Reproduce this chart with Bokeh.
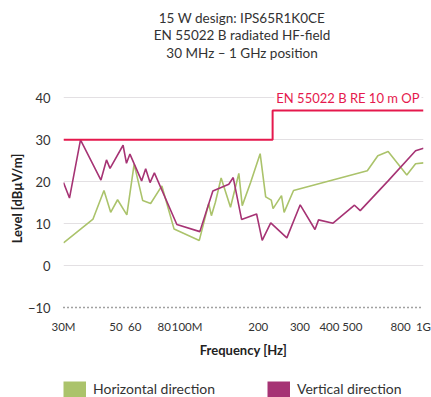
from bokeh.plotting import figure
from bokeh.layouts import column
from bokeh.models import (FixedTicker, Legend, LegendItem, Label, Range1d)
from bokeh.embed import file_html
from bokeh.resources import INLINE

# ---- data (frequency in MHz, level in dBuV/m) ----
horiz_freq = [30, 40.0, 44.5, 47.5, 50.8, 55.6, 59.7, 64.9, 70.1, 78.2, 88.1, 112.6, 123.4, 126.7,
              131.7, 139.3, 152.6, 165.5, 171.1, 185.6, 203.7, 215, 227, 231, 250.8, 257.3, 282,
              578.5, 641, 708.6, 850, 925.8, 1000]
horiz_level = [5.4, 11.1, 17.9, 12.7, 15.7, 12.1, 24.2, 15.5, 14.8, 19.0, 8.7, 6.0, 14.8, 11.9,
               15.1, 20.9, 13.9, 22.0, 14.3, 19.8, 26.7, 16.4, 15.6, 13.6, 16.7, 12.7, 17.9,
               22.6, 26.2, 27.2, 21.6, 24.3, 24.5]

vert_freq = [30, 31.8, 35.4, 43.2, 45.6, 47.2, 53.6, 55.4, 57.3, 64.2, 66.8, 69.7, 72.7, 90.5,
             113.2, 128.5, 150.1, 156.7, 170, 196.8, 207.8, 225.8, 264.2, 300.9, 347.5, 359.8,
             414.3, 510.6, 540, 708.6, 925.8, 1000]
vert_level = [19.8, 16.1, 30.0, 20.4, 25.2, 23.2, 28.7, 24.4, 26.6, 20.2, 23.1, 19.8, 22.1, 9.8,
              8.1, 17.8, 19.4, 21.0, 11.0, 12.3, 6.0, 10.2, 6.6, 14.5, 8.6, 10.9,
              10.1, 14.4, 13.1, 20.2, 27.4, 28.0]

limit_freq = [30, 230, 230, 1000]
limit_level = [30, 30, 37, 37]
limit_name = "EN 55022 B RE 10 m OP"

x_ticks = [30, 50, 60, 80, 100, 200, 300, 400, 500, 800, 1000]
x_tick_labels = ["30M", "50", "60", "80", "100M", "200", "300", "400", "500", "800", "1G"]
y_ticks = [-10, 0, 10, 20, 30, 40]

title_lines = ["15 W design: IPS65R1K0CE", "EN 55022 B radiated HF-field", "30 MHz \u2013 1 GHz position"]
series_names = ["Horizontal direction", "Vertical direction"]

GREEN = "#abc36b"
PURPLE = "#a63374"
RED = "#e5194d"
FONT = "Lato"
TXT = "#333333"

W = 431
BL, BR = 63, 8
TITLE_H = 89
FRAME_H = 218
AXIS_B = 58
LEG_H = 397 - TITLE_H - FRAME_H - AXIS_B


def blank_fig(h):
    f = figure(width=W, height=h, output_backend="svg", toolbar_location=None,
               x_axis_location=None, y_axis_location=None,
               min_border_left=BL, min_border_right=BR, min_border_top=0, min_border_bottom=0)
    f.outline_line_color = None
    f.grid.visible = False
    return f


# ---- title block ----
pt = blank_fig(TITLE_H)
for i, t in enumerate(title_lines):
    pt.add_layout(Label(x=178.5, y=TITLE_H - 17 - 17.5 * i, x_units="screen", y_units="screen",
                        text=t, text_align="center", text_baseline="middle",
                        text_font=FONT, text_font_size="13.5px", text_color=TXT))

# ---- main chart ----
p = figure(x_axis_type="log", x_range=Range1d(30, 1000), y_range=Range1d(-10, 42),
           width=W, height=FRAME_H + AXIS_B, output_backend="svg", toolbar_location=None,
           min_border_left=BL, min_border_right=BR, min_border_top=0, min_border_bottom=AXIS_B)
p.outline_line_color = None

xa = p.xaxis[0]
xa.ticker = FixedTicker(ticks=x_ticks)
xa.major_label_overrides = {t: l for t, l in zip(x_ticks, x_tick_labels)}
xa.major_tick_line_color = None
xa.minor_tick_line_color = None
xa.axis_line_dash = "1 3"
xa.axis_line_width = 1.5
xa.axis_line_color = "#444444"
xa.major_label_text_font = FONT
xa.major_label_text_font_size = "11.5px"
xa.major_label_text_color = TXT
xa.major_label_standoff = 6
xa.axis_label = "Frequency [Hz]"
xa.axis_label_text_font = FONT
xa.axis_label_text_font_size = "13px"
xa.axis_label_text_font_style = "bold"
xa.axis_label_text_color = "#222222"
xa.axis_label_standoff = 6

ya = p.yaxis[0]
ya.ticker = FixedTicker(ticks=y_ticks)
ya.axis_line_color = None
ya.major_tick_line_color = None
ya.minor_tick_line_color = None
ya.major_label_text_font = FONT
ya.major_label_text_font_size = "13px"
ya.major_label_text_color = TXT
ya.major_label_standoff = 7
ya.axis_label = "Level [dB\u00b5V/m]"
ya.axis_label_text_font = FONT
ya.axis_label_text_font_size = "13px"
ya.axis_label_text_font_style = "bold"
ya.axis_label_text_color = "#222222"
ya.axis_label_standoff = 0

p.xgrid.grid_line_color = None
p.ygrid.ticker = FixedTicker(ticks=[0, 10, 20, 30, 40])
p.ygrid.grid_line_color = "#e3e0e3"
p.ygrid.grid_line_width = 1

p.line(horiz_freq, horiz_level, line_color=GREEN, line_width=1.6)
p.line(vert_freq, vert_level, line_color=PURPLE, line_width=1.6)
p.line(limit_freq, limit_level, line_color=RED, line_width=2)

p.add_layout(Label(x=limit_freq[-1], y=40, x_offset=-2, text=limit_name, text_font=FONT,
                   text_font_size="13px", text_color=RED, text_baseline="middle",
                   text_align="right", background_fill_color="white", padding=2))

# ---- legend block (single-point lines: nothing drawn in the frame, only the swatch) ----
pl = blank_fig(LEG_H)
r1 = pl.line(x=horiz_freq[:1], y=horiz_level[:1], line_color=GREEN, line_width=16, line_cap="butt")
r2 = pl.line(x=vert_freq[:1], y=vert_level[:1], line_color=PURPLE, line_width=16, line_cap="butt")
legend = Legend(items=[LegendItem(label=series_names[0], renderers=[r1]),
                       LegendItem(label=series_names[1], renderers=[r2])],
                orientation="horizontal", location=(0, 0),
                glyph_width=23, glyph_height=16, label_standoff=7, spacing=52,
                padding=0, margin=0, border_line_color=None, background_fill_alpha=0,
                label_text_font=FONT, label_text_font_size="14px", label_text_color=TXT)
pl.add_layout(legend, "center")

layout = column(pt, p, pl, spacing=0)
open("out.html", "w").write(file_html(layout, INLINE))
